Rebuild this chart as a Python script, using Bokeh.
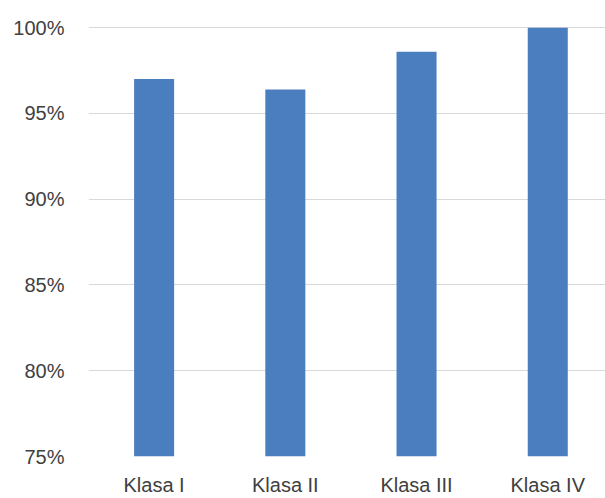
from bokeh.plotting import figure
from bokeh.models import Range1d, FixedTicker, PrintfTickFormatter, ColumnDataSource
from bokeh.embed import file_html
from bokeh.resources import INLINE

categories = ["Klasa I", "Klasa II", "Klasa III", "Klasa IV"]
values = [97.0, 96.4, 98.6, 100.0]
y_ticks = [75, 80, 85, 90, 95, 100]

x_pos = [i + 0.5 for i in range(len(categories))]
src = ColumnDataSource(dict(x=x_pos, top=values))

p = figure(width=605, height=498, output_backend="svg", toolbar_location=None,
           x_range=Range1d(0, 3.94), y_range=Range1d(75, 100.3),
           min_border_left=88, min_border_right=0, min_border_top=22,
           outline_line_color=None)
p.background_fill_color = "white"
p.border_fill_color = "white"

p.vbar(x="x", top="top", bottom=75, width=0.305, source=src,
       fill_color="#4A7EBF", line_color=None)

font = "Liberation Sans"
p.yaxis.ticker = FixedTicker(ticks=y_ticks)
p.yaxis.formatter = PrintfTickFormatter(format="%d%%")
p.yaxis.axis_line_color = None
p.yaxis.major_tick_line_color = None
p.yaxis.minor_tick_line_color = None
p.yaxis.major_tick_out = 0
p.yaxis.major_label_standoff = 24
p.yaxis.major_label_text_font = font
p.yaxis.major_label_text_font_size = "20px"
p.yaxis.major_label_text_color = "#404040"

p.xaxis.ticker = FixedTicker(ticks=x_pos)
p.xaxis.major_label_overrides = {x: c for x, c in zip(x_pos, categories)}
p.xaxis.axis_line_color = None
p.xaxis.major_tick_line_color = None
p.xaxis.minor_tick_line_color = None
p.xaxis.major_tick_out = 0
p.xaxis.major_label_standoff = 17
p.xaxis.major_label_text_font = font
p.xaxis.major_label_text_font_size = "20px"
p.xaxis.major_label_text_color = "#404040"

p.xgrid.grid_line_color = None
p.ygrid.ticker = FixedTicker(ticks=y_ticks)
p.ygrid.grid_line_color = "#D9D9D9"
p.ygrid.grid_line_width = 1

open("out.html", "w").write(file_html(p, INLINE))
